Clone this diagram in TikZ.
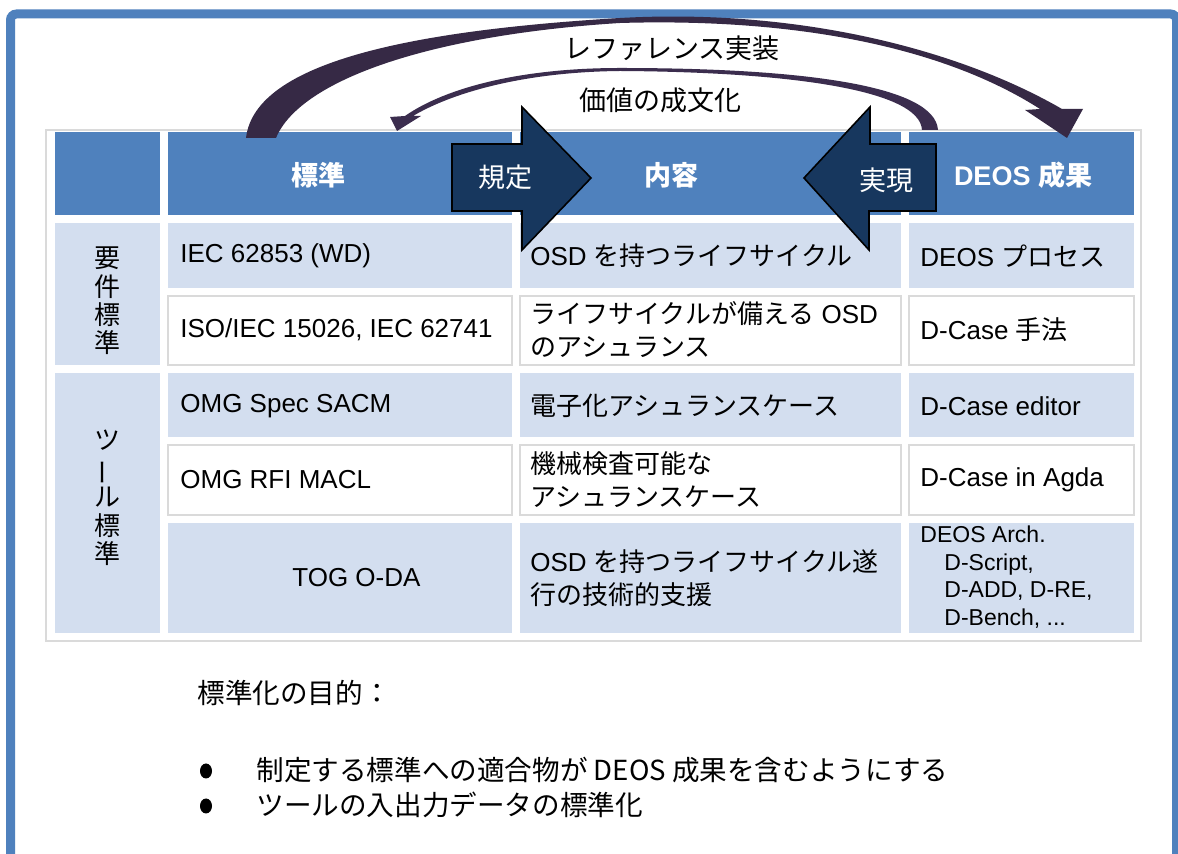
\documentclass[tikz,border=0pt]{standalone}
\usepackage{fontspec}
\usepackage{graphicx}
\usetikzlibrary{shapes.geometric}
\setmainfont{Liberation Sans}
\newfontfamily\cjk{Noto Sans CJK JP}
\definecolor{hdrblue}{HTML}{4F81BD}
\definecolor{bandblue}{HTML}{D3DEEF}
\definecolor{cellgray}{HTML}{DADADA}
\definecolor{framec}{HTML}{4F81BD}
\definecolor{arrA}{HTML}{362945}
\definecolor{arrB}{HTML}{3B2D4E}
\definecolor{navy}{HTML}{17375E}
\newcommand{\tabf}{\fontsize{13}{16.5}\selectfont}
\newcommand{\jp}[1]{{\cjk #1}}
\begin{document}
\begin{tikzpicture}[x=0.5pt,y=-0.5pt,
  hdr/.style={fill=hdrblue},
  band/.style={fill=bandblue},
  wcell/.style={fill=white,draw=cellgray,line width=0.75pt},
  txt/.style={font=\tabf,anchor=west,inner sep=0pt,align=left},
  hd/.style={font=\fontsize{13.5}{16}\selectfont\bfseries,text=white,inner sep=0pt},
  vert/.style={font=\fontsize{13}{14.2}\selectfont\cjk,inner sep=0pt,align=center},
  blockarrow/.style={fill=navy,draw=black,line width=0.8pt,line join=miter},
  arrlbl/.style={font=\fontsize{13.5}{16}\selectfont\cjk,text=white,inner sep=0pt},
  toplbl/.style={font=\fontsize{13.5}{16}\selectfont\cjk,inner sep=0pt},
  bottxt/.style={font=\fontsize{13.8}{16}\selectfont\cjk,anchor=west,inner sep=0pt},
  bulletdot/.style={ellipse,fill=black,inner sep=0pt,minimum width=6pt,minimum height=7.5pt}]
\useasboundingbox (0,0) rectangle (1178,854);
\clip (0,0) rectangle (1178,854);
\fill[white] (0,0) rectangle (1178,854);
% outer frame
\draw[framec,line width=4.5pt,rounded corners=3pt] (10.5,14) rectangle (1176.5,900);
% table outline
\draw[cellgray,line width=0.75pt] (46,130) rectangle (1141,641);
% header row
\fill[hdr] (55,132) rectangle (160,215);
\fill[hdr] (168,132) rectangle (512,215);
\fill[hdr] (520,132) rectangle (901,215);
\fill[hdr] (909,132) rectangle (1134,215);
% first column merged cells
\fill[band] (55,223) rectangle (160,365);
\fill[band] (55,373) rectangle (160,633);
% rows
\fill[band] (168,223) rectangle (512,288);
\fill[band] (520,223) rectangle (901,288);
\fill[band] (909,223) rectangle (1134,288);
\draw[wcell] (168,296) rectangle (512,365);
\draw[wcell] (520,296) rectangle (901,365);
\draw[wcell] (909,296) rectangle (1134,365);
\fill[band] (168,373) rectangle (512,437);
\fill[band] (520,373) rectangle (901,437);
\fill[band] (909,373) rectangle (1134,437);
\draw[wcell] (168,445) rectangle (512,515);
\draw[wcell] (520,445) rectangle (901,515);
\draw[wcell] (909,445) rectangle (1134,515);
\fill[band] (168,523) rectangle (512,633);
\fill[band] (520,523) rectangle (901,633);
\fill[band] (909,523) rectangle (1134,633);
% header texts
\node[hd] (h1) at (318,175) {\cjk 標準};
\node[hd] (h2) at (671,175) {\cjk 内容};
\node[hd] (h3) at (1023,175) {DEOS \jp{成果}};
% first column texts
\node[vert] (v1) at (107,301) {要\\件\\標\\準};
\node[vert] (v2) at (107,498) {ツ\\\rotatebox[origin=c]{90}{ー}\\ル\\標\\準};
% cell texts
\node[txt] (c11) at (180,256) {IEC 62853 (WD)};
\node[txt] (c12) at (530,256) {OSD \jp{を持つライフサイクル}};
\node[txt] (c13) at (920,256) {DEOS \jp{プロセス}};
\node[txt] (c21) at (180,330) {ISO/IEC 15026, IEC 62741};
\node[txt] (c22) at (530,330) {\jp{ライフサイクルが備える} OSD\\\jp{のアシュランス}};
\node[txt] (c23) at (920,330) {D-Case \jp{手法}};
\node[txt] (c31) at (180,406) {OMG Spec SACM};
\node[txt] (c32) at (530,406) {\jp{電子化アシュランスケース}};
\node[txt] (c33) at (920,406) {D-Case editor};
\node[txt] (c41) at (180,480) {OMG RFI MACL};
\node[txt] (c42) at (530,480) {\jp{機械検査可能な}\\\jp{アシュランスケース}};
\node[txt] (c43) at (920,480) {D-Case in Agda};
\node[txt] (c51) at (292,578) {TOG O-DA};
\node[txt] (c52) at (530,578) {OSD \jp{を持つライフサイクル遂}\\\jp{行の技術的支援}};
\node[txt,font=\fontsize{11.5}{13.8}\selectfont] (c53) at (920,577)
  {DEOS Arch.\\\hspace*{12pt}D-Script,\\\hspace*{12pt}D-ADD, D-RE,\\\hspace*{12pt}D-Bench, ...};
% curved arrow: reference implementation
\fill[arrA] (246,138) .. controls (255,60) and (420,30) .. (620,18)
  .. controls (800,8) and (960,50) .. (1062,109)
  -- (1083,109) -- (1067,138) -- (1025,110) -- (1040,109)
  .. controls (940,45) and (790,18) .. (620,23)
  .. controls (430,35) and (300,80) .. (276,138) -- cycle;
% curved arrow: codification of value
\fill[arrB] (938,130) .. controls (935,85) and (800,68) .. (620,68)
  .. controls (520,68) and (445,88) .. (405,116)
  -- (390,117) -- (397,131) -- (421,116) -- (413,116)
  .. controls (450,94) and (520,72) .. (620,71)
  .. controls (790,72) and (920,90) .. (922,130) -- cycle;
\node[toplbl] (refimpl) at (672,48) {レファレンス実装};
\node[toplbl] (codify) at (660,100) {価値の成文化};
% block arrows
\draw[blockarrow] (452,144) -- (522,144) -- (522,107) -- (591,178) -- (522,250) -- (522,211) -- (452,211) -- cycle;
\draw[blockarrow] (936,144) -- (870,144) -- (870,107) -- (804,178) -- (869,250) -- (869,211) -- (936,211) -- cycle;
\node[arrlbl] (kitei) at (505,177) {規定};
\node[arrlbl] (jitsugen) at (886,180) {実現};
% bottom text
\node[bottxt] (purpose) at (197,693) {標準化の目的：};
\node[bulletdot] (b1) at (206,771) {};
\node[bulletdot] (b2) at (206,806) {};
\node[bottxt] (l1) at (256,770) {制定する標準への適合物が DEOS 成果を含むようにする};
\node[bottxt] (l2) at (256,805) {ツールの入出力データの標準化};
\end{tikzpicture}
\end{document}
